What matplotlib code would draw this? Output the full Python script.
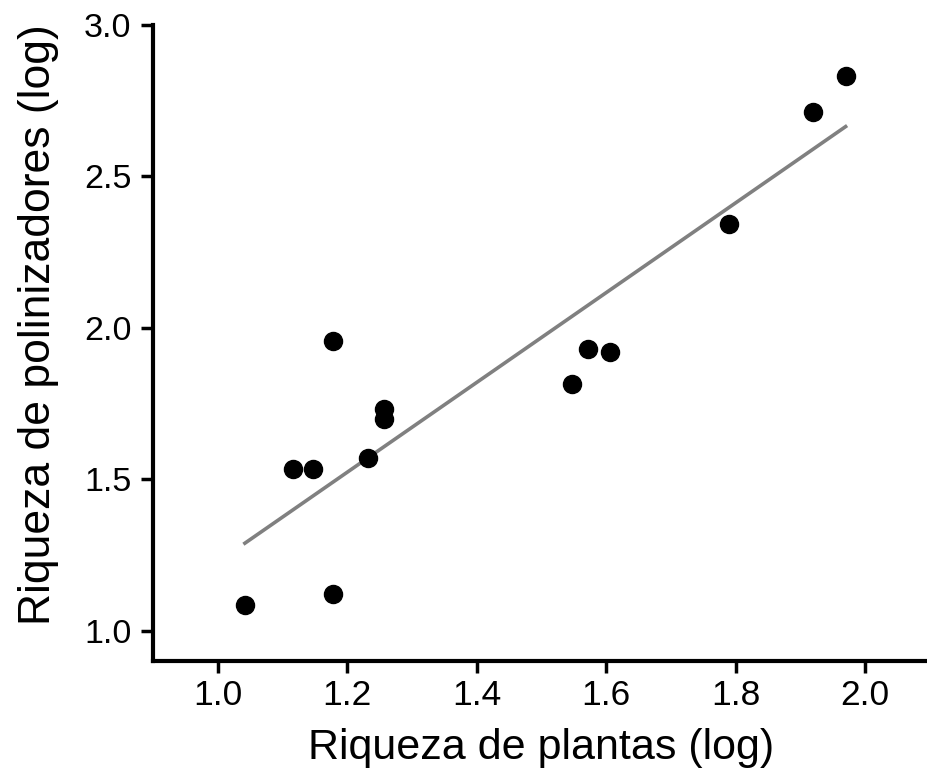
import numpy as np
import matplotlib
matplotlib.use("Agg")
import matplotlib.pyplot as plt

plt.rcParams['font.family'] = ['Liberation Sans', 'DejaVu Sans']

# log richness of plants (x) and pollinators (y), one value per site
plantas = [1.042, 1.116, 1.148, 1.178, 1.178, 1.232, 1.257, 1.257,
           1.548, 1.572, 1.606, 1.790, 1.919, 1.970]
polinizadores = [1.086, 1.535, 1.535, 1.956, 1.121, 1.572, 1.731, 1.701,
                 1.816, 1.932, 1.921, 2.344, 2.714, 2.832]

x_ticks = [1.0, 1.2, 1.4, 1.6, 1.8, 2.0]
y_ticks = [1.0, 1.5, 2.0, 2.5, 3.0]

x = np.array(plantas)
y = np.array(polinizadores)

fig = plt.figure(figsize=(9.27, 7.78), dpi=100)
ax = fig.add_axes([0.165, 0.150, 0.838, 0.818])

# least squares line over the data range
slope, intercept = np.polyfit(x, y, 1)
xl = np.array([x.min(), x.max()])
ax.plot(xl, slope * xl + intercept, color='#808080', lw=2.6, zorder=2)

ax.plot(x, y, 'o', color='black', markersize=13, zorder=3)

ax.set_xlim(0.9, 2.1)
ax.set_ylim(0.9, 3.0)
ax.set_xticks(x_ticks)
ax.set_yticks(y_ticks)
ax.set_xticklabels(['%.1f' % t for t in x_ticks])
ax.set_yticklabels(['%.1f' % t for t in y_ticks])

for s in ['top', 'right']:
    ax.spines[s].set_visible(False)
for s in ['left', 'bottom']:
    ax.spines[s].set_linewidth(3)

ax.tick_params(axis='both', width=2.5, length=8.5)
ax.tick_params(axis='x', pad=4, labelsize=25.5)
ax.tick_params(axis='y', pad=7, labelsize=24.5)

ax.set_xlabel('Riqueza de plantas (log)', fontsize=31)
ax.set_ylabel('Riqueza de polinizadores (log)', fontsize=32)
ax.xaxis.set_label_coords(0.5, -0.105)
ax.yaxis.set_label_coords(-0.121, 0.529)

fig.savefig('out.png', dpi=100)
